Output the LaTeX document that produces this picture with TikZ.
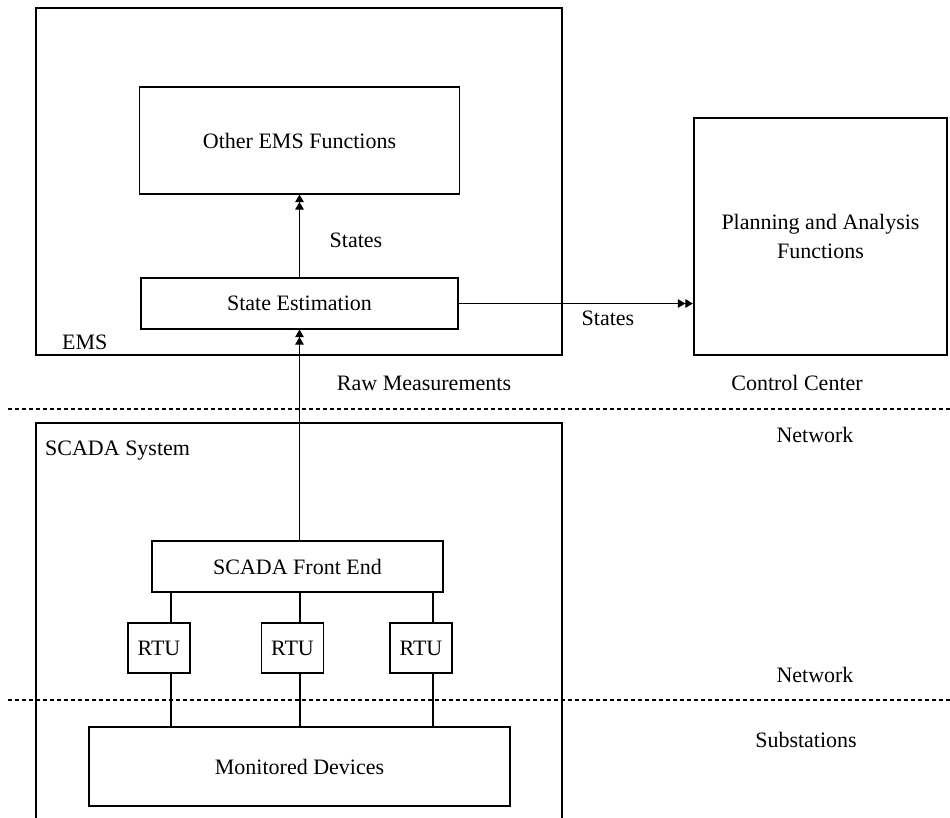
\documentclass[tikz,border=0pt]{standalone}
\usepackage{fontspec}
\setmainfont{Liberation Serif}
\usetikzlibrary{arrows.meta}
\begin{document}
\begin{tikzpicture}[x=1pt,y=-1pt,
  font=\fontsize{22}{29}\selectfont,
  box/.style={draw, line width=1.1pt, inner sep=0pt, align=center},
  frame/.style={draw, line width=2.2pt, inner sep=0pt, align=center},
  lbl/.style={inner sep=0pt},
  wire/.style={line width=1.1pt},
  dbl/.style={wire, -{Triangle[length=7.5pt,width=8.5pt]Triangle[length=7.5pt,width=8.5pt]}},
  sep/.style={line width=1.8pt, dash pattern=on 4pt off 3pt}]
\useasboundingbox (0,0) rectangle (950,817);
\clip (0,0) rectangle (950,817);

% control centre: EMS with its functions, and the planning side
\node[frame, minimum width=526pt, minimum height=347pt] (ems) at (299,181.5) {};
\node[box, minimum width=320pt, minimum height=107pt] (oef) at (299.5,140.5) {Other EMS Functions};
\node[box, minimum width=317pt, minimum height=51pt] (se) at (299.5,303.5) {State Estimation};
\node[frame, minimum width=253pt, minimum height=237pt] (paf) at (820.5,236.5) {Planning and Analysis\\Functions};

% SCADA system, open towards the bottom edge
\node[frame, minimum width=526pt, minimum height=417pt] (scada) at (299,631.5) {};
\node[box, minimum width=291pt, minimum height=51pt] (fe) at (297.5,566.5) {SCADA Front End};
\node[box, minimum width=62pt, minimum height=50pt] (rtu1) at (159,648) {RTU};
\node[box, minimum width=62pt, minimum height=50pt] (rtu2) at (292.5,648) {RTU};
\node[box, minimum width=62pt, minimum height=50pt] (rtu3) at (421,648) {RTU};
\node[box, minimum width=421pt, minimum height=79pt] (md) at (299.5,766.5) {Monitored Devices};

% labels
\node[lbl] (st1) at (356,240) {States};
\node[lbl] (st2) at (608,318) {States};
\node[lbl, anchor=west] (emsl) at (62,342) {EMS};
\node[lbl] (raw) at (424,383) {Raw Measurements};
\node[lbl] (cc) at (797,383) {Control Center};
\node[lbl] (net1) at (815,435) {Network};
\node[lbl, anchor=west] (scl) at (45,451) {SCADA System};
\node[lbl] (net2) at (815,675) {Network};
\node[lbl] (sub) at (806,740) {Substations};

% data flow
\draw[dbl] (se.north) -- (se.north |- oef.south);
\draw[dbl] (se.east) -- (se.east -| paf.west);
\draw[dbl] (fe.north -| se.north) -- (se.south);

% RTU links
\coordinate (c1) at (171,0);
\coordinate (c2) at (300,0);
\coordinate (c3) at (433,0);
\draw[wire] (fe.south -| c1) -- (rtu1.north -| c1);
\draw[wire] (fe.south -| c2) -- (rtu2.north -| c2);
\draw[wire] (fe.south -| c3) -- (rtu3.north -| c3);
\draw[wire] (rtu1.south -| c1) -- (md.north -| c1);
\draw[wire] (rtu2.south -| c2) -- (md.north -| c2);
\draw[wire] (rtu3.south -| c3) -- (md.north -| c3);

% zone boundaries
\coordinate (a1) at (8,409);
\coordinate (b1) at (950,409);
\coordinate (a2) at (8,700);
\coordinate (b2) at (950,700);
\draw[sep] (a1) -- (b1);
\draw[sep] (a2) -- (b2);
\end{tikzpicture}
\end{document}
